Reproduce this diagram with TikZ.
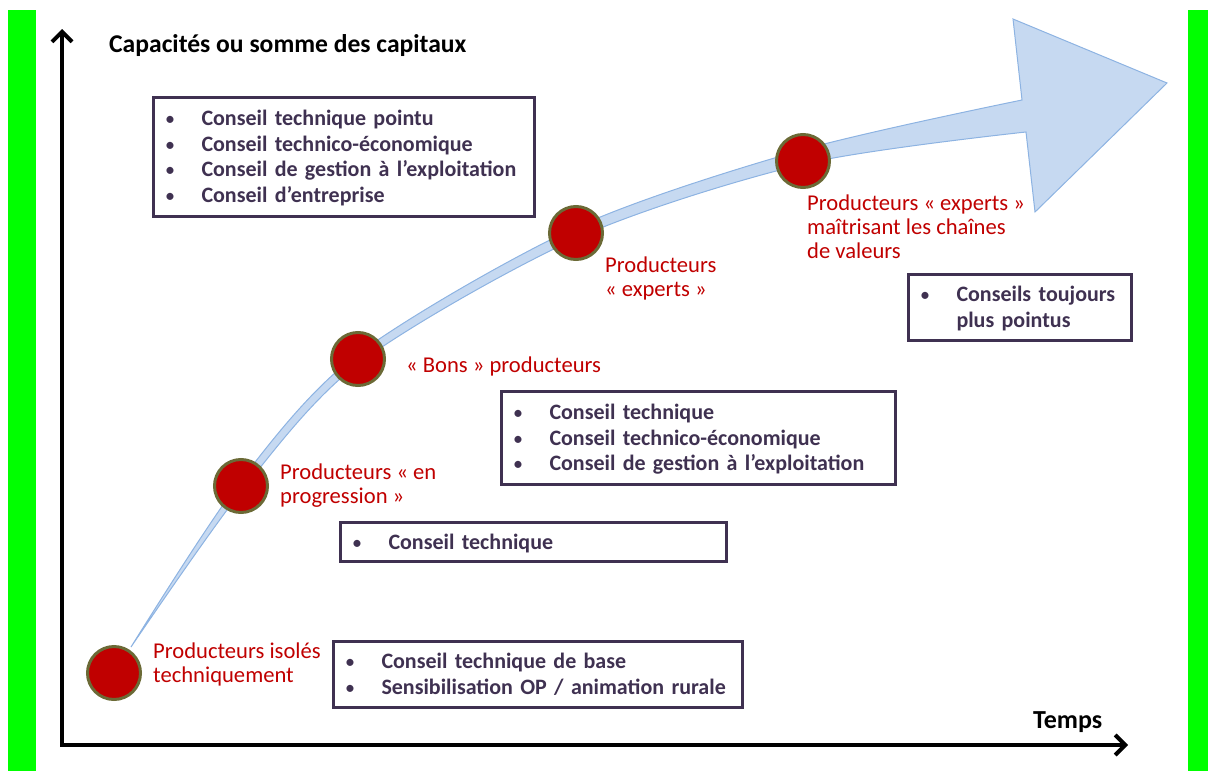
\documentclass[tikz,border=0pt]{standalone}
\usepackage{fontspec}
\setmainfont{Carlito}
\usetikzlibrary{arrows.meta}
\definecolor{boxc}{RGB}{63,49,81}
\definecolor{redc}{RGB}{192,0,0}
\definecolor{dotborder}{RGB}{107,106,54}
\definecolor{bandfill}{RGB}{198,217,241}
\definecolor{bandline}{RGB}{141,179,226}
\definecolor{barg}{RGB}{0,255,0}
\newcommand{\bstrut}{\rule[-5.6pt]{0pt}{25.5pt}}
\newcommand{\bitem}[1]{\bstrut\hspace*{16.5pt}\makebox[0pt]{\fontsize{20}{20}\selectfont\mdseries •}\hspace*{31.5pt}#1}
\newcommand{\bcont}[1]{\bstrut\hspace*{48pt}#1}
\tikzset{
  boxnode/.style={draw=boxc, line width=3pt, rectangle, anchor=north west, inner xsep=0pt, inner ysep=0pt,
    align=left, text=boxc, font=\fontsize{22}{25.5}\selectfont\bfseries},
  lbl/.style={anchor=north west, inner sep=0pt, align=left, text=redc, font=\fontsize{22.6}{24}\selectfont},
  dot/.style={circle, fill=redc, draw=dotborder, line width=3pt, minimum size=53pt, inner sep=0pt},
  axis/.style={line width=4pt, black, line join=miter},
  band/.style={fill=bandfill, draw=bandline, line width=1pt, line join=miter},
}
\begin{document}
\begin{tikzpicture}[x=1pt, y=-1pt]
\useasboundingbox (0,0) rectangle (1208,771);
% green side bars
\fill[barg] (8,10) rectangle (36,771);
\fill[barg] (1188,10) rectangle (1208,771);
% axes
\coordinate (ytop) at (62,29);
\coordinate (origin) at (62,745);
\coordinate (xend) at (1128,745);
\draw[axis, {Straight Barb[length=10pt,width=20pt]}-{Straight Barb[length=10pt,width=20pt]}] (ytop) -- (origin) -- (xend);
\node[anchor=base west, inner sep=0pt, font=\fontsize{25.6}{28}\selectfont\bfseries] (title) at (109,52) {Capacités ou somme des capitaux};
\node[anchor=base west, inner sep=0pt, font=\fontsize{26}{28}\selectfont\bfseries] (temps) at (1033,728) {Temps};
% curved band arrow
\path[band] plot[smooth] coordinates {(131,647) (238.3,483.8) (355.6,355.8) (573.9,228.4) (801.2,150.2) (1022,100)}
  -- (1013,19) -- (1167,83) -- (1035,212) -- (1026,132)
  -- plot[smooth] coordinates {(1026,132) (804.8,163.8) (578.1,237.6) (360.4,362.2) (243.7,488.2) (131,647)} -- cycle;
% circles
\node[dot] (c1) at (114,673) {};
\node[dot] (c2) at (241,486) {};
\node[dot] (c3) at (358,359) {};
\node[dot] (c4) at (576,233) {};
\node[dot] (c5) at (803,161) {};
% red labels
\node[lbl] (l1) at (153,641.2) {\strut Producteurs isolés\\techniquement};
\node[lbl] (l2) at (280,462.2) {\strut Producteurs « en\\progression »};
\node[lbl] (l3) at (406,355.2) {\strut « Bons » producteurs};
\node[lbl] (l4) at (605,255.2) {\strut Producteurs\\« experts »};
\node[lbl] (l5) at (807,193.2) {\strut Producteurs « experts »\\maîtrisant les chaînes\\de valeurs};
% boxes
\node[boxnode, text width=381pt, minimum height=119pt] (b1) at (152,96)
  {\bitem{Conseil technique pointu}\\\bitem{Conseil technico-économique}\\\bitem{Conseil de gestion à l’exploitation}\\\bitem{Conseil d’entreprise}};
\node[boxnode, text width=394pt, minimum height=93pt] (b2) at (500,390)
  {\bitem{Conseil technique}\\\bitem{Conseil technico-économique}\\\bitem{Conseil de gestion à l’exploitation}};
\node[boxnode, text width=386pt, minimum height=39pt] (b3) at (339,521)
  {\bitem{Conseil technique}};
\node[boxnode, text width=409pt, minimum height=66pt] (b4) at (332,640)
  {\bitem{Conseil technique de base}\\\bitem{Sensibilisation OP / animation rurale}};
\node[boxnode, text width=223pt, minimum height=66pt] (b5) at (907,273)
  {\bitem{Conseils toujours}\\\bcont{plus pointus}};
\end{tikzpicture}
\end{document}
